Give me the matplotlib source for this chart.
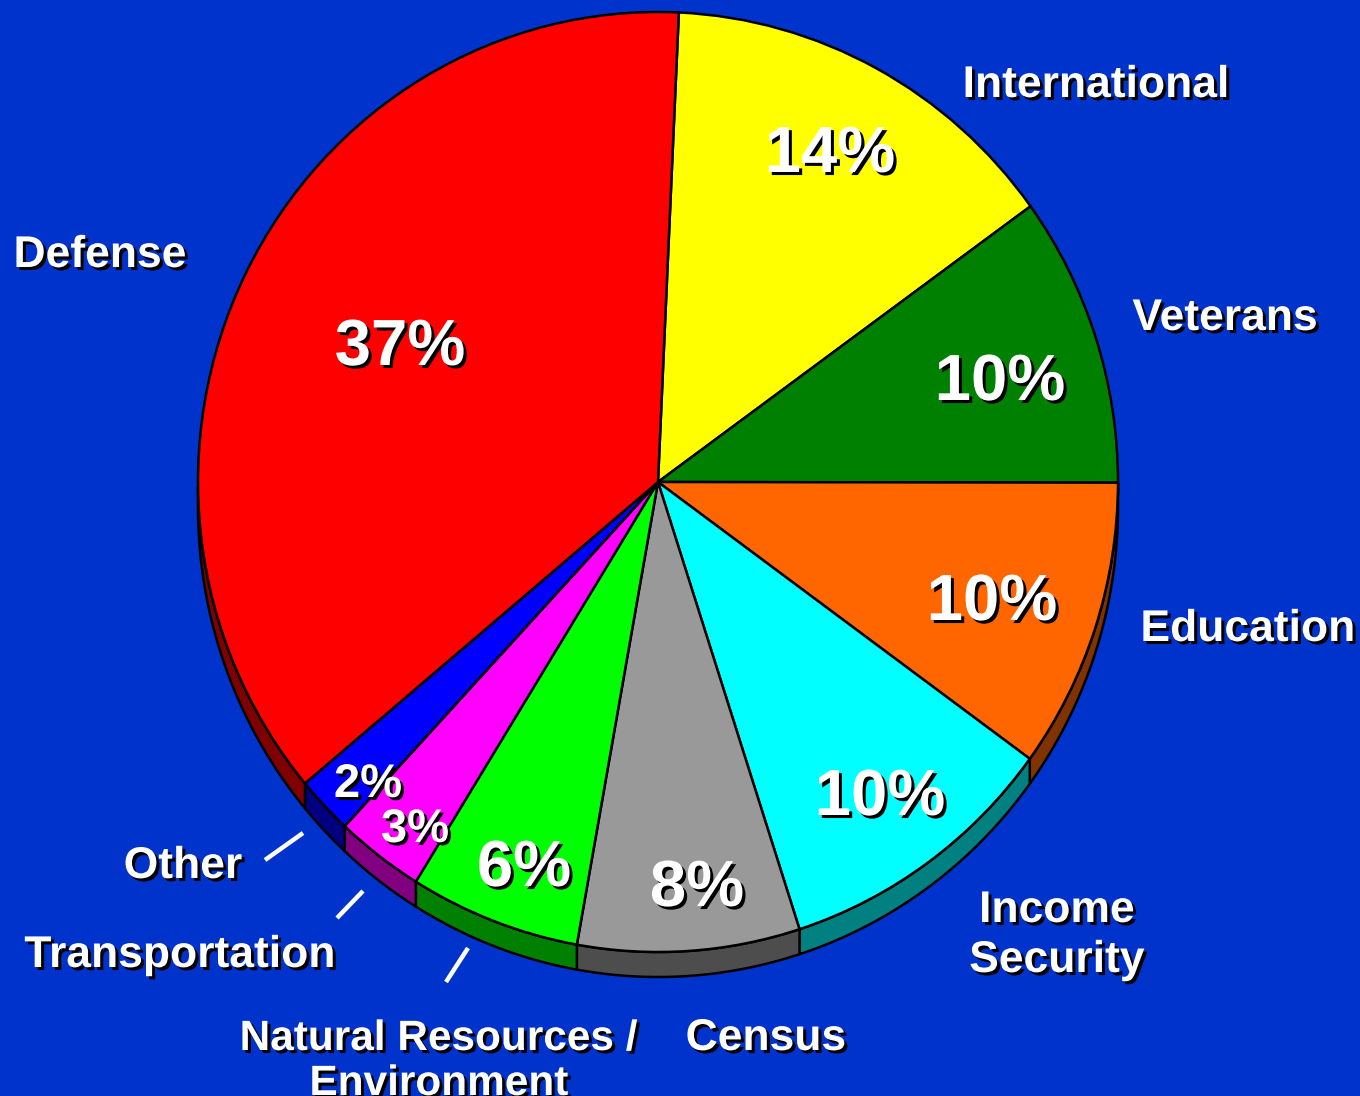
import numpy as np
import matplotlib
matplotlib.use("Agg")
import matplotlib.pyplot as plt
import matplotlib.patheffects as pe
from matplotlib.patches import Polygon

# budget shares (%), clockwise from the top
categories = ["International", "Veterans", "Education", "Income Security",
              "Census", "Natural Resources / Environment", "Transportation",
              "Other", "Defense"]
shares = [14.3, 10.0, 10.0, 10.0, 7.8, 6.0, 3.1, 2.0, 36.8]
top_colors = ["#FFFF00", "#008000", "#FF6600", "#00FFFF", "#999999",
              "#00FF00", "#FF00FF", "#0000FF", "#FF0000"]
side_colors = ["#808000", "#004000", "#803300", "#008080", "#4D4D4D",
               "#008000", "#800080", "#000080", "#800000"]

BG = "#0033CC"
W, H = 1360, 1096
cx, cy = 658, 482          # pie centre, px from top-left
rx, ry = 460, 470          # slightly taller than wide
depth = 25                 # px of the extruded side

fig = plt.figure(figsize=(W / 100, H / 100), dpi=100, facecolor=BG)

# pie axes, unit radius stretched to rx/ry pixels
pax = fig.add_axes([0, 0, 1, 1])
wedges, _ = pax.pie(shares, colors=top_colors, startangle=87.4,
                    counterclock=False,
                    wedgeprops=dict(edgecolor="black", linewidth=1.8, zorder=3))
pax.set_aspect("auto")
pax.set_xlim(-cx / rx, (W - cx) / rx)
pax.set_ylim(-(H - cy) / ry, cy / ry)
pax.set_facecolor(BG)
pax.axis("off")

d = depth / ry
for w, col in zip(wedges, side_colors):
    th = np.radians(np.linspace(w.theta1, w.theta2, 200))
    th = th[np.sin(th) <= 0]
    if len(th) < 2:
        continue
    top = np.column_stack([np.cos(th), np.sin(th)])
    bot = np.column_stack([np.cos(th), np.sin(th) - d])[::-1]
    pax.add_patch(Polygon(np.vstack([top, bot]), closed=True, facecolor=col,
                          edgecolor="black", linewidth=1.8, zorder=2))

# text axes in pixel coordinates
tax = fig.add_axes([0, 0, 1, 1])
tax.set_xlim(0, W)
tax.set_ylim(H, 0)
tax.axis("off")
tax.patch.set_alpha(0)

shadow = [pe.withSimplePatchShadow(offset=(2.2, -2.2), shadow_rgbFace="black", alpha=1.0)]
font = dict(family="Liberation Sans", weight="bold", color="white",
            ha="center", va="baseline", path_effects=shadow)

# percentage labels (x centre, baseline, size)
pct_pos = [(830, 172, 47), (1000, 400, 47), (992, 620, 47), (880, 815, 47),
           (697, 906, 47), (524, 886, 47), (415, 842, 34), (368, 797, 34),
           (400, 365, 47)]
for v, (x, y, s) in zip(shares, pct_pos):
    tax.text(x, y, f"{round(v)}%", fontsize=s, **font)

# category labels, one entry per line (text, x centre, baseline, size)
label_lines = [("International", 1096, 97, 32), ("Veterans", 1225, 330, 32),
               ("Education", 1248, 641, 32), ("Income", 1057, 922, 32),
               ("Security", 1057, 972, 32), ("Census", 766, 1050, 32),
               ("Natural Resources /", 439, 1050, 30.5),
               ("Environment", 439, 1095, 30.5),
               ("Transportation", 180, 967, 32), ("Other", 183, 878, 32),
               ("Defense", 100, 267, 32)]
for txt, x, y, s in label_lines:
    tax.text(x, y, txt, fontsize=s, **font)

# white leader lines for the small slices
leaders = [((265, 860), (303, 833)), ((337, 918), (363, 891)),
           ((446, 982), (468, 948))]
for (x0, y0), (x1, y1) in leaders:
    tax.plot([x0, x1], [y0, y1], color="white", linewidth=3.2,
             solid_capstyle="butt")

fig.savefig("out.png", dpi=100, facecolor=BG)
